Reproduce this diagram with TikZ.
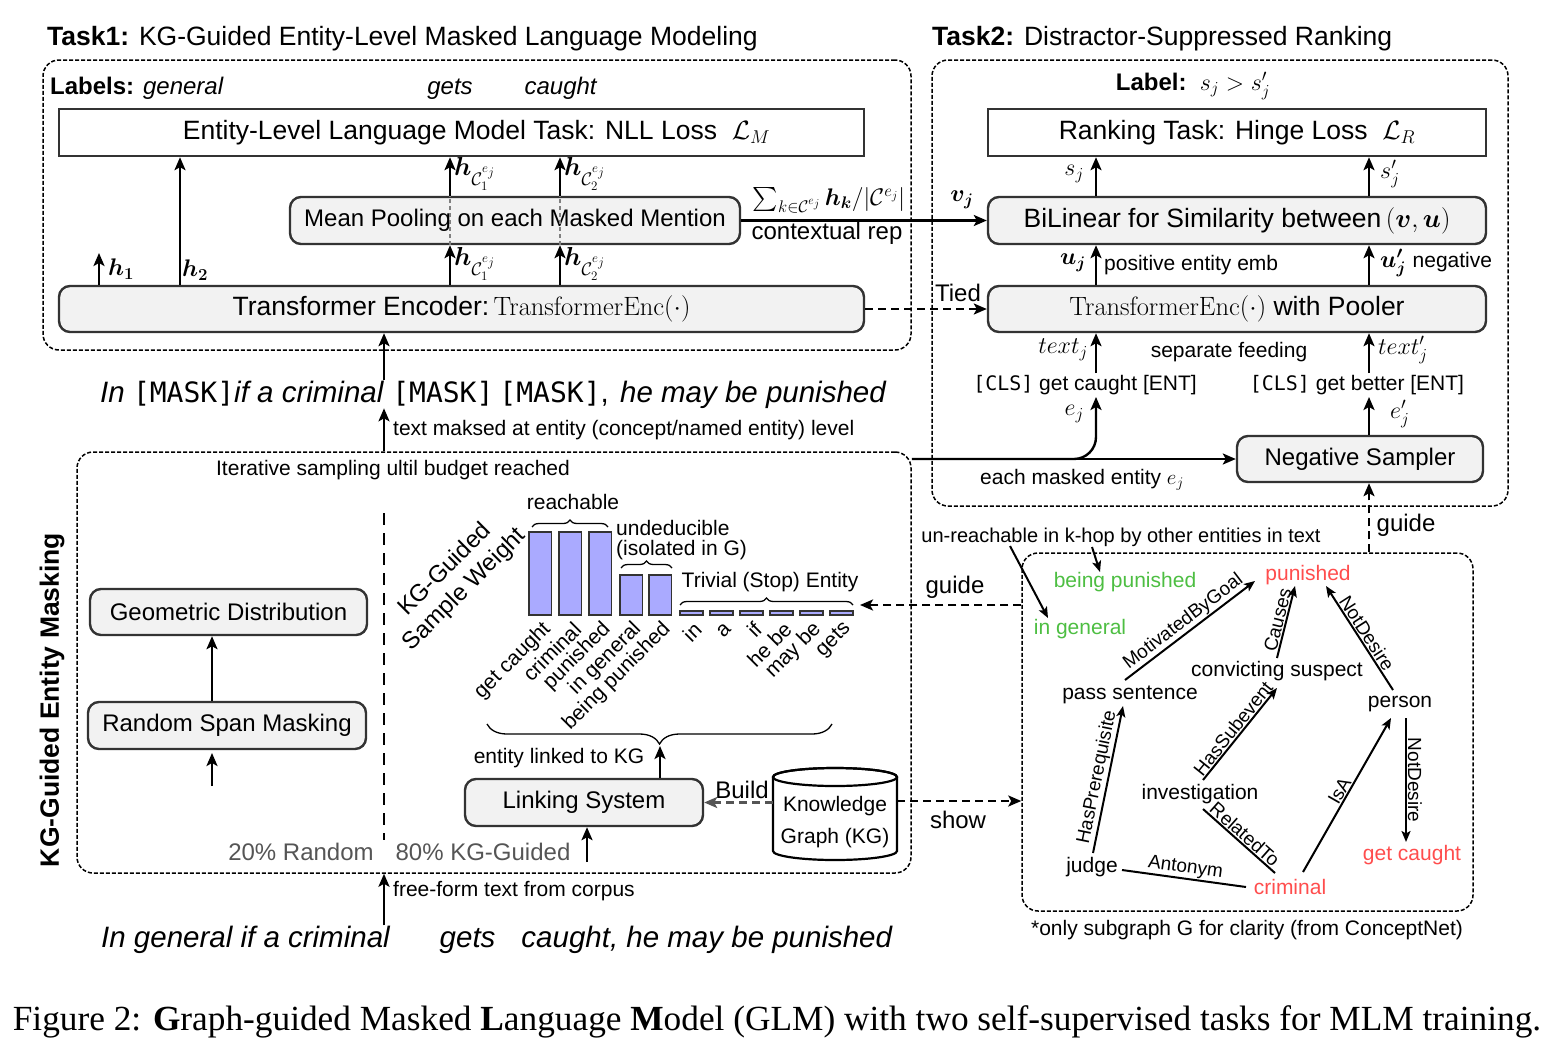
\RequirePackage{fix-cm}
\documentclass[tikz,border=0pt]{standalone}
\usepackage{amsmath,amssymb,bm}
\usepackage[no-math]{fontspec}
\setmainfont{Liberation Sans}
\newfontfamily\capfont{Liberation Serif}
\newfontfamily\mymono{DejaVu Sans Mono}[Scale=0.95]
\usetikzlibrary{arrows.meta,calc,decorations.pathreplacing}
\newcommand{\fsT}{\fontsize{26.5pt}{31pt}\selectfont}
\newcommand{\fsA}{\fontsize{26.5pt}{31pt}\selectfont}
\newcommand{\fsB}{\fontsize{24pt}{28pt}\selectfont}
\newcommand{\fsH}{\fontsize{26pt}{30pt}\selectfont}
\newcommand{\fsC}{\fontsize{21pt}{24pt}\selectfont}
\newcommand{\fsD}{\fontsize{19pt}{22pt}\selectfont}
\newcommand{\fsS}{\fontsize{29.5pt}{34pt}\selectfont}
\definecolor{boxfill}{RGB}{242,242,242}
\definecolor{bordc}{RGB}{51,51,51}
\definecolor{barfill}{RGB}{170,170,255}
\definecolor{kgred}{RGB}{255,77,77}
\definecolor{kggreen}{RGB}{77,190,66}
\definecolor{txtgray}{RGB}{85,85,85}
\tikzset{
  every node/.style={inner sep=2pt},
  rbox/.style={draw=bordc, line width=2.4pt, rounded corners=11pt, fill=boxfill, font=\fsB, inner sep=0pt},
  sbox/.style={draw=bordc, line width=2.4pt, fill=white, font=\fsA, inner sep=0pt},
  grp/.style={draw=black, line width=1.5pt, dash pattern=on 4pt off 2pt, rounded corners=16pt, inner sep=0pt},
  arr/.style={line width=2.4pt, -{Stealth[length=13pt,width=11pt,inset=3pt]}},
  darr/.style={arr, dash pattern=on 8pt off 5pt},
  gedge/.style={line width=2pt, -{Stealth[length=11pt,width=9pt,inset=2.5pt]}},
  gline/.style={line width=2pt},
  elab/.style={font=\fsD, sloped, above, inner sep=1pt},
  gnode/.style={font=\fsC, inner sep=1pt},
  bar/.style={draw=bordc, line width=1.6pt, fill=barfill},
  brc/.style={decorate, decoration={brace, amplitude=7pt}, line width=1.3pt},
}
\begin{document}
\begin{tikzpicture}[x=1pt,y=-1pt]
\useasboundingbox (0,0) rectangle (1565,1060);

% titles
\node[anchor=base west,font=\fsT] (t1) at (45,45) {\textbf{Task1:} KG-Guided Entity-Level Masked Language Modeling};
\node[anchor=base west,font=\fsT] (t2) at (930,45) {\textbf{Task2:} Distractor-Suppressed Ranking};

% groups
\node[grp, minimum width=868, minimum height=290] (g1) at (477,205) {};
\node[grp, minimum width=576, minimum height=446] (g2) at (1220,283) {};
\node[grp, minimum width=834, minimum height=421] (g3) at (494,662.5) {};
\node[grp, minimum width=451, minimum height=358] (g4) at (1247.5,732) {};

% ---------- Task 1 ----------
\node[anchor=base west, font=\fsB] (lab1) at (48,94) {\textbf{Labels:} \textit{general}};
\node[anchor=base, font=\fsB] (labg) at (450,94) {\textit{gets}};
\node[anchor=base, font=\fsB] (labc) at (561,94) {\textit{caught}};

\node[sbox, minimum width=805, minimum height=47] (nll) at (461.5,132.5) {\hspace*{30pt}Entity-Level Language Model Task: NLL Loss\ \ $\mathcal{L}_M$};
\node[rbox, minimum width=450, minimum height=47] (mp) at (515,220.5) {Mean Pooling on each Masked Mention};
\node[rbox, font=\fsA, minimum width=805, minimum height=46] (enc) at (461.5,309) {Transformer Encoder:\,$\mathrm{TransformerEnc}(\cdot)$};

\coordinate (xh1) at (99,253);
\draw[arr] (enc.north -| xh1) -- (xh1);
\node[anchor=west,font=\fsB] (h1) at (106,269) {$\bm{h_1}$};
\coordinate (xh2) at (180,0);
\draw[arr] (enc.north -| xh2) -- (nll.south -| xh2);
\node[anchor=west,font=\fsB] (h2) at (180,270) {$\bm{h_2}$};

\coordinate (xc1) at (450,0);
\coordinate (xc2) at (560,0);
\foreach \c in {xc1,xc2}{
  \draw[arr] (enc.north -| \c) -- (mp.south -| \c);
  \draw[arr] (mp.north -| \c) -- (nll.south -| \c);
  \draw[line width=1.2pt, draw=gray, dash pattern=on 4pt off 3pt] (mp.south -| \c) -- (mp.north -| \c);
}
\node[anchor=west,font=\fsH] (hc1a) at (452,174) {$\bm{h}_{\mathcal{C}_1^{e_j}}$};
\node[anchor=west,font=\fsH] (hc2a) at (562,174) {$\bm{h}_{\mathcal{C}_2^{e_j}}$};
\node[anchor=west,font=\fsH] (hc1b) at (452,264) {$\bm{h}_{\mathcal{C}_1^{e_j}}$};
\node[anchor=west,font=\fsH] (hc2b) at (562,264) {$\bm{h}_{\mathcal{C}_2^{e_j}}$};

% ---------- Task 2 ----------
\node[font=\fsB] (lab2) at (1193,86) {\textbf{Label:}\ \ $s_j > s'_j$};
\node[sbox, minimum width=498, minimum height=47] (rank) at (1237,132.5) {Ranking Task: Hinge Loss\ \ $\mathcal{L}_R$};
\node[rbox, font=\fsA, minimum width=498, minimum height=47] (bil) at (1237,220.5) {BiLinear for Similarity between\,$(\bm{v},\bm{u})$};
\node[rbox, font=\fsA, minimum width=498, minimum height=46] (tep) at (1237,309) {$\mathrm{TransformerEnc}(\cdot)$ with Pooler};
\node[rbox, minimum width=246, minimum height=46] (neg) at (1360,459) {Negative Sampler};

\coordinate (xp) at (1096,0);
\coordinate (xn) at (1369,0);
\foreach \c in {xp,xn}{
  \draw[arr] (bil.north -| \c) -- (rank.south -| \c);
  \draw[arr] (tep.north -| \c) -- (bil.south -| \c);
}
\node[anchor=east, font=\fsB] (sj) at (1086,174) {$s_j$};
\node[anchor=west, font=\fsB] (sjp) at (1378,174) {$s'_j$};
\node[anchor=east,font=\fsB] (uj) at (1088,263) {$\bm{u_j}$};
\node[anchor=west,font=\fsC] (pee) at (1102,265) {positive entity emb};
\node[anchor=west,font=\fsB] (ujn) at (1378,263) {$\bm{u'_j}$ {\fsC negative}};

\node[font=\fsC] (cls1) at (1085,385) {{\mymono[CLS]} get caught [ENT]};
\node[font=\fsC] (cls2) at (1357,385) {{\mymono[CLS]} get better [ENT]};
\draw[arr] (cls1.north -| xp) -- (tep.south -| xp);
\draw[arr] (cls2.north -| xn) -- (tep.south -| xn);
\node[anchor=east,font=\fsB] (txj) at (1090,350) {$text_j$};
\node[anchor=west,font=\fsB] (txjp) at (1376,350) {$text'_j$};
\node[font=\fsC] (sepf) at (1229,352) {separate feeding};
\draw[arr] (neg.north -| xn) -- (cls2.south -| xn);
\node[anchor=west,font=\fsB] (ejp) at (1388,414) {$e'_j$};
\node[anchor=east,font=\fsB] (ej) at (1086,414) {$e_j$};

% cross connections
\draw[arr] (mp.east) -- (bil.west);
\node[font=\fsB] (sumlab) at (829,200) {$\sum_{k\in\mathcal{C}^{e_j}}\bm{h_k}/|\mathcal{C}^{e_j}|$};
\node[font=\fsB] (ctx) at (827,233) {contextual rep};
\node[font=\fsB] (vj) at (962,200) {$\bm{v_j}$};
\draw[darr] (enc.east) -- (tep.west);
\node[font=\fsB] (tied) at (958,293) {Tied};

% masked sentence
\node[anchor=base west, font=\fsS, inner sep=0pt] (s1) at (100,402) {\textit{In }{\mymono[MASK]}\textit{if a criminal }{\mymono[MASK]}\hspace{6pt}{\mymono[MASK]}, \hspace{3pt}\textit{he may be punished}};
\coordinate (xs) at (384,0);
\draw[arr] (s1.north -| xs) -- (enc.south -| xs);
\draw[arr] (g3.north -| xs) -- (s1.south -| xs);
\node[anchor=west,font=\fsC] (tm) at (391,430) {text maksed at entity (concept/named entity) level};

% ---------- KG-guided masking ----------
\node[font=\fsC] (iter) at (393,470) {Iterative sampling ultil budget reached};
\node[rotate=90, font=\fsA\bfseries] (kgem) at (52,700) {KG-Guided Entity Masking};
\node[rbox, minimum width=277, minimum height=46] (gd) at (228.5,612) {Geometric Distribution};
\node[rbox, minimum width=278, minimum height=47] (rsm) at (227,725.5) {Random Span Masking};
\coordinate (xr) at (212,0);
\draw[arr] (rsm.north -| xr) -- (gd.south -| xr);
\coordinate (rin) at (212,786);
\coordinate (rinend) at (212,753);
\draw[arr] (rin) -- (rinend);
\coordinate (dv1) at (384,513);
\coordinate (dv2) at (384,840);
\draw[line width=1.6pt, dash pattern=on 12pt off 8pt] (dv1) -- (dv2);
\node[font=\fsB, text=txtgray] (r20) at (301,852) {20\% Random};
\node[font=\fsB, text=txtgray] (k80) at (483,852) {80\% KG-Guided};

\node[rbox, minimum width=238, minimum height=47] (link) at (584,802.5) {Linking System};
\coordinate (lin) at (587,862);
\draw[arr] (lin) -- (link.south -| lin);
\coordinate (btip) at (660,746);
\draw[arr] (link.north -| btip) -- (btip);
\node[font=\fsC] (elk) at (559,758) {entity linked to KG};

% bars
\foreach \x/\t in {529/532, 559/532, 589/532, 620/575, 649/575}
  \draw[bar] (\x,\t) rectangle (\x+22.5,615);
\foreach \x in {680,710,...,830}
  \draw[bar] (\x,611) rectangle (\x+23,615);
\foreach \x/\w [count=\i] in {540.5/get caught, 570.5/criminal, 600.5/punished, 631/in general, 660.5/being punished, 691/in, 721/a, 751/if, 781/he be, 811/may be, 841/gets}
  \node[rotate=45, anchor=east, font=\fsC, inner sep=0pt] (bl\i) at (\x+7,626) {\w};
\node[rotate=45, align=center, font=\fsB] (ksw) at (455,580) {KG-Guided\\Sample Weight};
\draw[brc] (532,527) -- (608,527);
\node[font=\fsC] (reach) at (573,502) {reachable};
\draw[brc] (621,568) -- (672,568);
\node[anchor=west, font=\fontsize{21pt}{20pt}\selectfont, align=left] (undd) at (614,540) {undeducible\\(isolated in G)};
\draw[brc] (680,605) -- (853,605);
\node[font=\fsC] (triv) at (770,582) {Trivial (Stop) Entity};
\draw[brc, decoration={brace,mirror,amplitude=20pt}] (487,724) -- (832,724);

% KG cylinder
\node[minimum width=124, minimum height=92, inner sep=0pt] (kg) at (835,814) {};
\draw[line width=2.2pt, fill=white] (773,777) -- (773,851) arc[start angle=180,end angle=360,x radius=62pt,y radius=9pt] -- (897,777) arc[start angle=0,end angle=180,x radius=62pt,y radius=9pt] -- cycle;
\draw[line width=2.2pt] (835,777) ellipse [x radius=62pt, y radius=9pt];
\node[font=\fontsize{21pt}{32pt}\selectfont, align=center] (kgt) at (835,822) {Knowledge\\Graph (KG)};

\draw[darr, draw=txtgray] (link.east -| kg.west) -- (link.east);
\node[font=\fsB] (build) at (742,790) {Build};
\coordinate (ysh) at (0,801);
\draw[darr] (kg.east |- ysh) -- (g4.west |- ysh);
\node[font=\fsB] (show) at (958,820) {show};

\coordinate (gtip) at (860,605);
\draw[darr] (g4.west |- gtip) -- (gtip);
\node[font=\fsB] (guide1) at (955,587) {guide};

% raw sentence
\node[anchor=base west, font=\fsS, inner sep=0pt] (s2) at (101,947) {\textit{In general if a criminal\hspace*{50pt}gets\hspace*{26pt}caught, he may be punished}};
\draw[arr] (s2.north -| xs) -- (g3.south -| xs);
\node[anchor=west,font=\fsC] (ff) at (391,891) {free-form text from corpus};

% masked entity line
\draw[arr] (g3.east |- neg.west) -- (neg.west);
\draw[arr, rounded corners=22pt] (g3.east |- neg.west) -| (cls1.south -| xp);
\node[font=\fsC] (eme) at (1082,480) {each masked entity $e_j$};
\draw[darr] (g4.north -| xn) -- (neg.south -| xn);
\node[font=\fsB] (guide2) at (1406,525) {guide};

% ---------- subgraph ----------
\node[font=\fontsize{20pt}{24pt}\selectfont] (unr) at (1121,537) {un-reachable in k-hop by other entities in text};
\node[gnode, text=kggreen] (beingp) at (1125,582) {being punished};
\node[gnode, text=kgred] (punished) at (1308,575) {punished};
\node[gnode, text=kggreen] (ingen) at (1080,629) {in general};
\node[gnode] (convict) at (1277,671) {convicting suspect};
\node[gnode] (pass) at (1130,695) {pass sentence};
\node[gnode] (person) at (1400,704) {person};
\node[gnode] (invest) at (1200,794) {investigation};
\node[gnode] (judge) at (1092,867) {judge};
\node[gnode, text=kgred] (criminal) at (1290,887) {criminal};
\node[gnode, text=kgred] (getc) at (1412,855) {get caught};

\draw[gedge] ([shift={(-111,9)}]unr.center) -- ([shift={(-32,-11)}]ingen.center);
\draw[gedge] ([shift={(-29,10)}]unr.center) -- ([shift={(-25,-10)}]beingp.center);

\draw[gedge] ([shift={(-5,-15)}]pass.center) -- node[elab]{MotivatedByGoal} ([shift={(-53,6)}]punished.center);
\draw[gedge] ([shift={(0,-13)}]convict.center) -- node[elab]{Causes} ([shift={(-13,11)}]punished.center);
\draw[gedge] ([shift={(-7,-14)}]person.center) -- node[elab]{NotDesire} ([shift={(18,11)}]punished.center);
\draw[gedge] ([shift={(1,-14)}]judge.center) -- node[elab]{HasPrerequisite} ([shift={(-7,11)}]pass.center);
\draw[gedge] ([shift={(3,-14)}]invest.center) -- node[elab]{HasSubevent} ([shift={(0,17)}]convict.center);
\draw[gline] ([shift={(3,15)}]invest.center) -- node[elab]{RelatedTo} ([shift={(-15,-14)}]criminal.center);
\draw[gline] ([shift={(30,3)}]judge.center) -- node[elab]{Antonym} ([shift={(-44,0)}]criminal.center);
\draw[gedge] ([shift={(13,-15)}]criminal.center) -- node[elab]{IsA} ([shift={(-9,14)}]person.center);
\draw[gedge] ([shift={(6,14)}]person.center) -- node[elab]{NotDesire} ([shift={(-6,-13)}]getc.center);

\node[font=\fsC] (only) at (1247,930) {*only subgraph G for clarity (from ConceptNet)};

% caption
\node[font=\capfont\fontsize{35.3pt}{41pt}\selectfont] (cap) at (777,1022) {Figure 2: \textbf{G}raph-guided Masked \textbf{L}anguage \textbf{M}odel (GLM) with two self-supervised tasks for MLM training.};
\end{tikzpicture}
\end{document}
